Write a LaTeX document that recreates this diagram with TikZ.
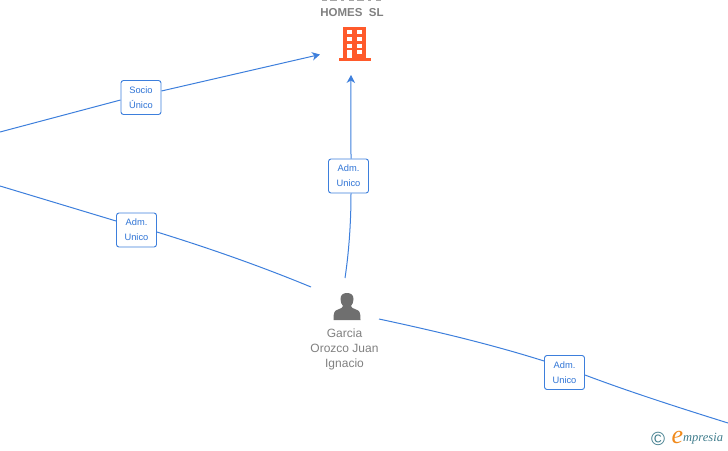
\documentclass[tikz,border=0pt]{standalone}
\usetikzlibrary{arrows.meta}
\usepackage{fontspec}
\setmainfont{Liberation Sans}
\newfontfamily\logofont{Liberation Serif}
\definecolor{edge}{HTML}{3D7FDC}
\definecolor{lab}{HTML}{2F74D6}
\definecolor{bld}{HTML}{FF5A2B}
\definecolor{per}{HTML}{6F6F6F}
\definecolor{txt}{HTML}{808080}
\definecolor{logoB}{HTML}{3F7C8C}
\definecolor{logoO}{HTML}{F08A1C}
\begin{document}
\begin{tikzpicture}[x=1pt,y=-1pt,
  conn/.style={edge,line width=1pt},
  tip/.style={-{Stealth[length=8pt,width=8.5pt,inset=2.5pt]}},
  lbl/.style={draw=edge,rounded corners=2.5pt,fill=white,line width=0.9pt,minimum width=40pt,minimum height=34pt,inner sep=0pt,align=center,text=lab,font=\fontsize{9.3}{15}\selectfont},
  nametxt/.style={text=txt,align=center,inner sep=0pt}]
\useasboundingbox (0,0) rectangle (728,450);
\clip (0,0) rectangle (728,450);
\coordinate (a0) at (0,132);
\coordinate (a1) at (320,54.5);
\coordinate (b0) at (345,278);
\coordinate (b1) at (351,75);
\coordinate (c0) at (0,186);
\coordinate (c1) at (311,287);
\coordinate (d0) at (379,319);
\coordinate (d1) at (728,423);
\node[lbl] (socio) at (141,97.5) {Socio\\Único};
\node[lbl] (adm1) at (348.5,176) {Adm.\\Unico};
\node[lbl] (adm2) at (136.5,230) {Adm.\\Unico};
\node[lbl] (adm3) at (564.5,372.5) {Adm.\\Unico};
\draw[conn] (a0) -- (socio.west |- 0,100);
\draw[conn,tip] (socio.east |- 0,91) -- (a1);
\draw[conn] (b0) .. controls (348.5,255) and (351,225) .. (adm1.south -| 351,0);
\draw[conn,tip] (adm1.north -| 351,0) .. controls (351,130) and (350.5,105) .. (b1);
\draw[conn] (c0) -- (adm2.west |- 0,221);
\draw[conn] (adm2.east |- 0,232) .. controls (215,250) and (265,268) .. (c1);
\draw[conn] (d0) .. controls (435,331) and (490,344) .. (adm3.west |- 0,361);
\draw[conn] (adm3.east |- 0,375) .. controls (630,392) and (680,408) .. (d1);
% building
\draw[txt!70,line width=1.6pt,dash pattern=on 5pt off 3pt on 7pt off 4pt on 3pt off 5pt] (322,0.6) -- (383,0.6);
\node[nametxt,font=\bfseries\fontsize{11.5}{15}\selectfont] (nm) at (352,12.6) {HOMES\ \ SL};
\fill[bld] (343,26.5) rectangle (366,58);
\fill[bld] (338.5,57.5) rectangle (370.5,60.5);
\foreach \yy in {30,36.5,43.5} {\fill[white] (347,\yy) rectangle (352,\yy+4); \fill[white] (357,\yy) rectangle (362,\yy+4);}
\fill[white] (357,50) rectangle (362,54);
\fill[white] (347,50) rectangle (352,58);
% person
\node[nametxt,font=\fontsize{12}{15}\selectfont] (pn) at (344.5,349) {Garcia\\Orozco Juan\\Ignacio};
\fill[per] (340.5,299) .. controls (340.5,302) and (341.5,304.5) .. (343,306)
  .. controls (343,307.5) and (341,308.5) .. (338,309.5)
  .. controls (334.5,310.5) and (333.5,312) .. (333.5,320) -- (360.5,320)
  .. controls (360.5,312) and (359.5,310.5) .. (356,309.5)
  .. controls (353,308.5) and (351,307.5) .. (351,306)
  .. controls (352.5,304.5) and (353.5,302) .. (353.5,299)
  .. controls (353.5,295) and (351,293) .. (347,293)
  .. controls (343,293) and (340.5,295) .. (340.5,299) -- cycle;
\node[text=logoB,font=\fontsize{19}{19}\selectfont,inner sep=0pt] (cr) at (658,438.5) {©};
\node[text=logoO,font=\logofont\itshape\fontsize{26}{26}\selectfont,inner sep=0pt] (e) at (677.5,437) {e};
\node[text=logoB,font=\logofont\itshape\fontsize{12.5}{14}\selectfont,inner sep=0pt,anchor=west] (mp) at (683,439) {mpresia};
\end{tikzpicture}
\end{document}
